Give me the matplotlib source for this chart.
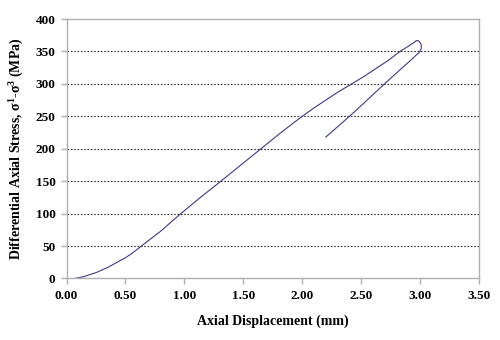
import matplotlib.pyplot as plt
import numpy as np

plt.rcParams['font.family'] = 'Liberation Serif'
plt.rcParams['mathtext.fontset'] = 'custom'
plt.rcParams['mathtext.rm'] = 'Liberation Serif'
plt.rcParams['mathtext.bf'] = 'Liberation Serif:bold'

# loading branch, peak, then unloading back down
disp = [0.07, 0.10, 0.15, 0.20, 0.25, 0.30, 0.35, 0.40, 0.45, 0.50, 0.55, 0.60,
        0.65, 0.70, 0.75, 0.80, 0.85, 0.90, 0.97, 1.05, 1.15, 1.31, 1.48, 1.65,
        1.82, 1.92, 2.00, 2.10, 2.20, 2.30, 2.42, 2.52, 2.62, 2.72, 2.83, 2.90,
        2.95, 2.97, 2.99, 3.01, 3.01, 3.00, 2.93, 2.85, 2.71, 2.58, 2.45, 2.32,
        2.20]
stress = [0, 1, 3, 6, 9, 13, 17, 22, 27, 32, 38, 45,
          52, 59, 66, 73, 81, 89, 100, 112, 127, 150, 175, 200,
          225, 239, 250, 263, 275, 287, 300, 311, 323, 335, 350, 358,
          364, 367, 366, 361, 355, 350, 338, 325, 302, 280, 258, 237,
          218]

xticks = [0.0, 0.5, 1.0, 1.5, 2.0, 2.5, 3.0, 3.5]
yticks = [0, 50, 100, 150, 200, 250, 300, 350, 400]

fig = plt.figure(figsize=(5, 3.4), dpi=100)
ax = fig.add_axes([0.133, 0.181, 0.825, 0.763])

ax.plot(disp, stress, color='#3a3a8a', lw=0.8)

ax.set_xlim(0, 3.5)
ax.set_ylim(0, 400)
ax.set_xticks(xticks)
ax.set_yticks(yticks)
ax.set_xticklabels(['%.2f' % v for v in xticks], fontweight='bold', fontsize=9.5)
ax.set_yticklabels([str(v) for v in yticks], fontweight='bold', fontsize=9.5)

for v in yticks[1:-1]:
    ax.axhline(v, color='#333333', lw=0.8, ls=(0, (1.5, 1.5)), zorder=0)

for s in ax.spines.values():
    s.set_color('#b0b0b0')
    s.set_linewidth(1.0)
ax.tick_params(direction='out', length=4, color='#b0b0b0', width=1.0, pad=4)

ax.set_xlabel('Axial Displacement (mm)', fontweight='bold', fontsize=10, labelpad=9)
ax.set_ylabel(r'Differential Axial Stress, $\mathregular{\sigma^{1}}$-$\mathregular{\sigma^{3}}$ (MPa)',
              fontweight='bold', fontsize=10, labelpad=7)

fig.savefig('out.png', dpi=100)
